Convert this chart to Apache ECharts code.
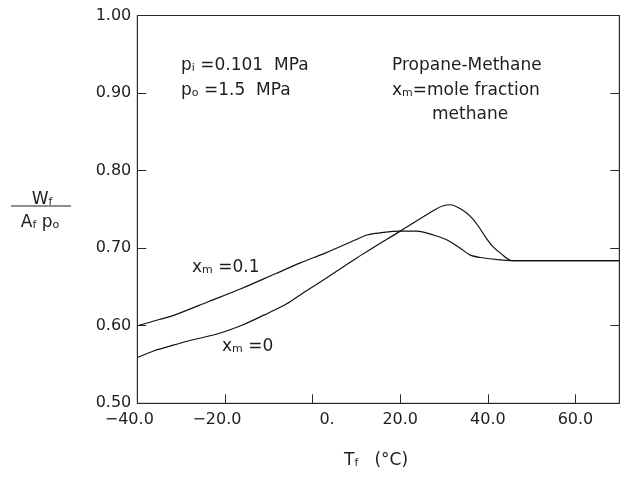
<!DOCTYPE html>
<html><head><meta charset="utf-8">
<script src="https://cdn.jsdelivr.net/npm/echarts/dist/echarts.min.js"></script>
<style>html,body{margin:0;padding:0;background:#fff}#c{width:621px;height:477px}</style>
</head><body><div id="c"></div>
<script>
// Tick values and labels
const xTicks = [-40, -20, 0, 20, 40, 60];
const xTickLabels = ['−40.0', '−20.0', '0.', '20.0', '40.0', '60.0'];
const yTicks = [0.5, 0.6, 0.7, 0.8, 0.9, 1.0];
const yTickLabels = ['0.50', '0.60', '0.70', '0.80', '0.90', '1.00'];

// Series x_m = 0 (propane)
const tempXm0 = [-40, -36, -33, -28, -22, -16, -11, -6, -2, 3, 10, 20, 28, 30, 31.5, 33, 35, 36.5, 38, 39.5, 41, 43, 45.5, 55, 70];
const wXm0    = [0.559, 0.568, 0.573, 0.581, 0.589, 0.601, 0.614, 0.628, 0.643, 0.661, 0.687, 0.722, 0.750, 0.755, 0.756, 0.753, 0.746, 0.738, 0.727, 0.714, 0.703, 0.693, 0.684, 0.684, 0.684];

// Series x_m = 0.1
const tempXm01 = [-40, -35, -31.4, -23.8, -16.2, -8.5, -2.8, 3, 9.7, 12.4, 16.2, 20, 23.8, 27.6, 30.7, 33.7, 36, 38.3, 42.8, 45.5, 55, 70];
const wXm01    = [0.600, 0.608, 0.614, 0.631, 0.648, 0.667, 0.681, 0.694, 0.7105, 0.717, 0.7205, 0.722, 0.722, 0.717, 0.7105, 0.700, 0.691, 0.688, 0.6848, 0.684, 0.684, 0.684];

const FF = 'DejaVu Sans';
const TC = '#1e1e1e';
const chart = echarts.init(document.getElementById('c'), null, {renderer: 'canvas'});

function xLabel(v) {
  const i = xTicks.indexOf(Math.round(v));
  if (i < 0) return '';
  const s = xTickLabels[i];
  if (v < 0) return '{neg|' + s + '}';
  if (v === 0) return '{zero|' + s + '}';
  return '{n|' + s + '}';
}
function yLabel(v) {
  const i = yTicks.findIndex(t => Math.abs(t - v) < 1e-6);
  return i < 0 ? '' : yTickLabels[i];
}

const main = {fontSize: 17, fontFamily: FF, lineHeight: 20, verticalAlign: 'bottom', color: TC};
const sub = {fontSize: 11, fontFamily: FF, lineHeight: 12, verticalAlign: 'bottom', color: TC};
const rich = {a: main, s: sub};
function txt(x, y, text, align) {
  return {type: 'text', x: x, y: y, silent: true,
    style: {text: text, rich: rich, fill: TC, font: '17px ' + FF, align: align || 'left', verticalAlign: 'middle'}};
}

const axisLineStyle = {show: true, onZero: false, lineStyle: {color: '#2a2a2a', width: 1}};
const tickStyle = {show: true, inside: true, length: 9, lineStyle: {color: '#2a2a2a'}};

const option = {
  animation: false,
  backgroundColor: '#fff',
  grid: {left: 137.3, right: 1.7, top: 15.5, bottom: 73.7, show: true, borderColor: '#2a2a2a', borderWidth: 1, backgroundColor: 'transparent'},
  xAxis: {
    type: 'value', min: -40, max: 70, interval: 20,
    axisLine: axisLineStyle,
    axisTick: tickStyle,
    splitLine: {show: false},
    axisLabel: {
      formatter: xLabel, margin: 9, fontSize: 16, fontFamily: FF, color: TC,
      showMaxLabel: false,
      rich: {
        neg: {fontSize: 16, fontFamily: FF, color: TC, padding: [0, 16, 0, 0]},
        zero: {fontSize: 16, fontFamily: FF, color: TC, padding: [0, 0, 0, 29]},
        n: {fontSize: 16, fontFamily: FF, color: TC}
      }
    }
  },
  yAxis: [{
    type: 'value', min: 0.5, max: 1.0, interval: 0.1, position: 'left',
    axisLine: axisLineStyle,
    axisTick: tickStyle,
    splitLine: {show: false},
    axisLabel: {formatter: yLabel, margin: 6, fontSize: 16, fontFamily: FF, color: TC}
  }, {
    type: 'value', min: 0.5, max: 1.0, interval: 0.1, position: 'right',
    axisLine: axisLineStyle,
    axisTick: tickStyle,
    splitLine: {show: false},
    axisLabel: {show: false}
  }],
  series: [{
    name: 'x_m=0', type: 'line', yAxisIndex: 0, showSymbol: false, smooth: 0.3, silent: true,
    lineStyle: {color: '#111', width: 1.2},
    data: tempXm0.map((t, i) => [t, wXm0[i]])
  }, {
    name: 'x_m=0.1', type: 'line', yAxisIndex: 0, showSymbol: false, smooth: 0.3, silent: true,
    lineStyle: {color: '#111', width: 1.2},
    data: tempXm01.map((t, i) => [t, wXm01[i]])
  }],
  graphic: [
    txt(181, 64, '{a|p}{s|i}{a| =0.101  MPa}'),
    txt(181, 89, '{a|p}{s|o}{a| =1.5  MPa}'),
    txt(392, 64, '{a|Propane-Methane}'),
    txt(392, 89, '{a|x}{s|m}{a|=mole fraction}'),
    txt(432, 113, '{a|methane}'),
    txt(192, 266, '{a|x}{s|m}{a| =0.1}'),
    txt(222, 345, '{a|x}{s|m}{a| =0}'),
    txt(42, 198, '{a|W}{s|f}', 'center'),
    {type: 'line', silent: true, shape: {x1: 11, y1: 206, x2: 71, y2: 206}, style: {stroke: TC, lineWidth: 1}},
    txt(40, 221, '{a|A}{s|f}{a| p}{s|o}', 'center'),
    txt(344, 459, '{a|T}{s|f}{a|   (°C)}')
  ]
};
chart.setOption(option);
</script>
</body></html>
